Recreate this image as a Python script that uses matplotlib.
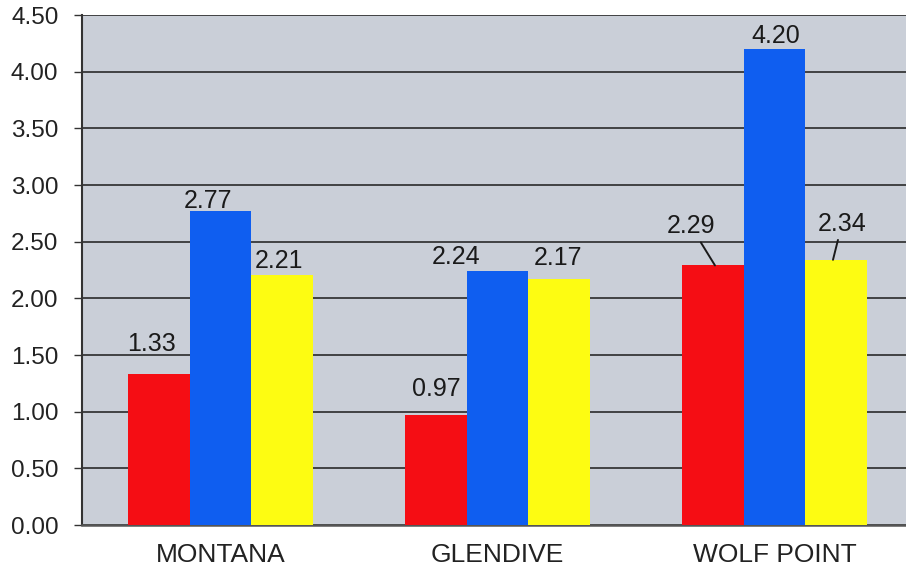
import numpy as np
import matplotlib.pyplot as plt

plt.rcParams['font.family'] = ['Liberation Sans', 'DejaVu Sans']

# ----------  Data  ----------
categories = ['MONTANA', 'GLENDIVE', 'WOLF POINT']
series_red = [1.33, 0.97, 2.29]
series_blue = [2.77, 2.24, 4.20]
series_yellow = [2.21, 2.17, 2.34]
y_ticks = [0.0, 0.5, 1.0, 1.5, 2.0, 2.5, 3.0, 3.5, 4.0, 4.5]

colors = ['#f50d14', '#0f5ef0', '#fdfc12']

# label centre offsets in pixels (dx, dy) from the bar top centre
offsets = {
    (0, 0): (-8, 30), (0, 1): (-12, 10), (0, 2): (-3, 14),
    (1, 0): (0, 26), (1, 1): (-41, 14), (1, 2): (-1, 21),
    (2, 0): (-22, 39), (2, 1): (1, 13), (2, 2): (6, 36),
}
# labels pulled away from their bar get a leader line (anchor shift in px)
leader = {(2, 0): 2, (2, 2): -3}

# ----------  Plotting  ----------
fig = plt.figure(figsize=(9.06, 5.71), dpi=100)
ax = fig.add_axes([82 / 906, 46 / 571, 831 / 906, 510 / 571])
ax.set_facecolor('#cacfd8')

px = 72 / fig.dpi
unit_px = 831 / len(categories)   # pixels per category on the x axis
x = np.arange(len(categories))
w = 0.222
for j, (vals, col) in enumerate(zip([series_red, series_blue, series_yellow], colors)):
    bars = ax.bar(x + (j - 1) * w, vals, width=w, color=col, zorder=3,
                  edgecolor='none')
    for i, b in enumerate(bars):
        v = vals[i]
        dx, dy = offsets[(i, j)]
        cx = b.get_x() + b.get_width() / 2
        if (i, j) in leader:
            shift = leader[(i, j)]
            ax.annotate(f'{v:.2f}', xy=(cx + shift / unit_px, v),
                        xytext=((dx - shift) * px, dy * px),
                        textcoords='offset points',
                        ha='center', va='center', fontsize=18, color='#1a1a1a',
                        zorder=5,
                        arrowprops=dict(arrowstyle='-', color='#1a1a1a', lw=1.4,
                                        shrinkA=1, shrinkB=0))
        else:
            ax.annotate(f'{v:.2f}', xy=(cx, v), xytext=(dx * px, dy * px),
                        textcoords='offset points', ha='center', va='center',
                        fontsize=18, color='#1a1a1a', zorder=5)

ax.set_xlim(-0.5, len(categories) - 0.5)
ax.set_ylim(0, 4.5)
ax.set_yticks(y_ticks)
ax.set_yticklabels([f'{t:.2f}' for t in y_ticks], fontsize=17.5, color='#222222')
ax.set_xticks(x)
ax.set_xticklabels(categories, fontsize=19, color='#222222')
ax.tick_params(axis='x', length=0, pad=13)
ax.tick_params(axis='y', length=6, width=1, color='#333333', pad=11)
ax.yaxis.grid(True, color='#2a2a2a', linewidth=1.2, zorder=1)
ax.set_axisbelow(True)
for s in ['top', 'right']:
    ax.spines[s].set_visible(False)
ax.spines['left'].set_color('#333333')
ax.spines['left'].set_linewidth(1.5)
ax.spines['bottom'].set_color('#555555')
ax.spines['bottom'].set_linewidth(1.8)

fig.savefig('out.png', dpi=100)
